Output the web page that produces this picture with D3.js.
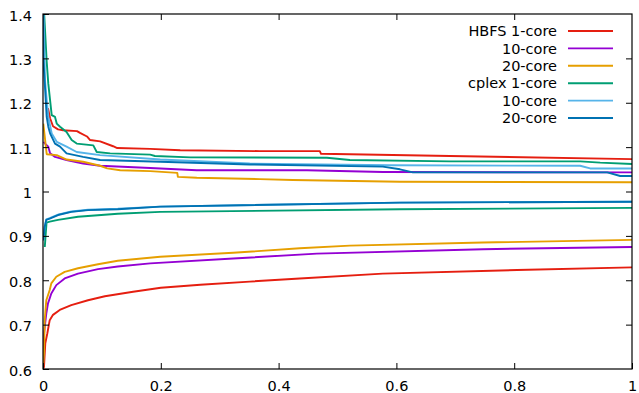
<!DOCTYPE html>
<html>
<head>
<meta charset="utf-8">
<script src="https://cdn.jsdelivr.net/npm/d3@7/dist/d3.min.js"></script>
<style>
  html, body { margin: 0; padding: 0; background: #fff; }
  svg { display: block; font-family: "DejaVu Sans", sans-serif; }
</style>
</head>
<body>
<div id="chart"></div>
<script>
// series names / colours (legend order = drawing order)
const seriesNames = ['HBFS 1-core', '10-core', '20-core', 'cplex 1-core', '10-core', '20-core'];
const seriesColors = ['#e51e10', '#9400d3', '#e69f00', '#009e73', '#56b4e9', '#0072b2'];

// upper curves, [x, ratio]
const hbfs1Upper = [[0.0085,1.188],[0.012,1.165],[0.017,1.147],[0.0255,1.140],[0.034,1.138],[0.0577,1.136],[0.0628,1.132],[0.0747,1.124],[0.080,1.116],[0.097,1.113],[0.119,1.102],[0.126,1.098],[0.182,1.096],[0.233,1.093],[0.368,1.091],[0.470,1.091],[0.472,1.085],[0.691,1.080],[1.0,1.073]];
const hbfs10Upper = [[0.001,1.112],[0.0034,1.108],[0.009,1.101],[0.012,1.086],[0.0204,1.078],[0.040,1.071],[0.068,1.063],[0.097,1.058],[0.182,1.053],[0.261,1.048],[0.448,1.048],[0.577,1.044],[1.0,1.043]];
const hbfs20Upper = [[0.0005,1.153],[0.0063,1.084],[0.0233,1.082],[0.040,1.072],[0.068,1.067],[0.097,1.058],[0.109,1.052],[0.131,1.048],[0.182,1.046],[0.228,1.042],[0.229,1.033],[0.261,1.031],[0.368,1.028],[0.424,1.026],[0.606,1.022],[1.0,1.021]];
const cplex1Upper = [[0.002,1.40],[0.0063,1.292],[0.009,1.243],[0.012,1.206],[0.0148,1.172],[0.0204,1.168],[0.0233,1.153],[0.0289,1.146],[0.040,1.134],[0.0487,1.116],[0.0572,1.108],[0.0854,1.104],[0.0912,1.089],[0.114,1.086],[0.182,1.083],[0.190,1.080],[0.250,1.077],[0.482,1.076],[0.521,1.071],[0.691,1.068],[0.912,1.068],[0.946,1.065],[1.0,1.062]];
const cplex10Upper = [[0.001,1.40],[0.0034,1.251],[0.0063,1.206],[0.009,1.168],[0.0148,1.131],[0.0233,1.112],[0.040,1.101],[0.0572,1.089],[0.097,1.082],[0.199,1.072],[0.351,1.063],[0.589,1.059],[0.912,1.058],[0.929,1.052],[1.0,1.052]];
const cplex20Upper = [[0.0003,1.40],[0.0005,1.301],[0.0063,1.168],[0.009,1.146],[0.012,1.131],[0.0204,1.108],[0.0289,1.101],[0.040,1.086],[0.068,1.078],[0.097,1.071],[0.199,1.067],[0.351,1.061],[0.577,1.056],[0.606,1.050],[0.628,1.043],[0.958,1.043],[0.980,1.035],[1.0,1.035]];

// lower curves, [x, ratio]
const hbfs1Lower = [[0,0.60],[0.0017,0.605],[0.0039,0.658],[0.0073,0.680],[0.0114,0.710],[0.017,0.722],[0.0284,0.733],[0.048,0.744],[0.0764,0.755],[0.105,0.764],[0.153,0.774],[0.200,0.783],[0.267,0.790],[0.351,0.797],[0.436,0.804],[0.577,0.815],[0.805,0.823],[1.0,0.829]];
const hbfs10Lower = [[0,0.60],[0.0017,0.680],[0.0056,0.725],[0.0085,0.748],[0.0141,0.770],[0.0226,0.789],[0.0368,0.804],[0.0594,0.815],[0.0934,0.825],[0.127,0.831],[0.182,0.838],[0.323,0.849],[0.465,0.860],[0.747,0.870],[1.0,0.875]];
const hbfs20Lower = [[0,0.60],[0.0017,0.636],[0.0029,0.710],[0.0056,0.755],[0.0114,0.778],[0.0141,0.793],[0.0226,0.808],[0.0368,0.819],[0.0594,0.827],[0.0934,0.836],[0.127,0.844],[0.199,0.853],[0.323,0.862],[0.436,0.872],[0.521,0.878],[0.747,0.885],[1.0,0.891]];
const cplex1Lower = [[0.003,0.875],[0.0039,0.891],[0.006,0.930],[0.0114,0.932],[0.0255,0.936],[0.0594,0.943],[0.127,0.950],[0.199,0.954],[0.606,0.960],[1.0,0.963]];
const cplex10Lower = [[0.0005,0.890],[0.0029,0.921],[0.0056,0.937],[0.0114,0.940],[0.0255,0.948],[0.048,0.955],[0.0764,0.959],[0.127,0.961],[0.199,0.966],[0.606,0.975],[1.0,0.977]];
const cplex20Lower = [[0.0005,0.890],[0.0029,0.920],[0.0056,0.936],[0.0114,0.939],[0.0255,0.947],[0.048,0.954],[0.0764,0.958],[0.127,0.960],[0.199,0.966],[0.606,0.975],[1.0,0.977]];

const upperCurves = [hbfs1Upper, hbfs10Upper, hbfs20Upper, cplex1Upper, cplex10Upper, cplex20Upper];
const lowerCurves = [hbfs1Lower, hbfs10Lower, hbfs20Lower, cplex1Lower, cplex10Lower, cplex20Lower];

const xTicks = [0, 0.2, 0.4, 0.6, 0.8, 1];
const xTickLabels = ['0', '0.2', '0.4', '0.6', '0.8', '1'];
const yTicks = [0.6, 0.7, 0.8, 0.9, 1.0, 1.1, 1.2, 1.3, 1.4];
const yTickLabels = ['0.6', '0.7', '0.8', '0.9', '1', '1.1', '1.2', '1.3', '1.4'];

const width = 639, height = 393;
const margin = { top: 14, right: 7, bottom: 24, left: 43 };
const fontSize = 14.5;

const svg = d3.select('#chart').append('svg')
  .attr('width', width)
  .attr('height', height)
  .style('font-size', fontSize + 'px');

const x = d3.scaleLinear().domain([0, 1]).range([margin.left, width - margin.right]);
const y = d3.scaleLinear().domain([0.6, 1.4]).range([height - margin.bottom, margin.top]);

// clip so lines stay inside the frame
svg.append('clipPath').attr('id', 'plot-clip')
  .append('rect')
  .attr('x', margin.left).attr('y', margin.top)
  .attr('width', x(1) - x(0)).attr('height', y(0.6) - y(1.4));

const line = d3.line().x(d => x(d[0])).y(d => y(d[1]));

const plot = svg.append('g').attr('clip-path', 'url(#plot-clip)');
seriesNames.forEach((name, i) => {
  [upperCurves[i], lowerCurves[i]].forEach(curve => {
    plot.append('path')
      .datum(curve)
      .attr('fill', 'none')
      .attr('stroke', seriesColors[i])
      .attr('stroke-width', 1.9)
      .attr('stroke-linejoin', 'round')
      .attr('d', line);
  });
});

// axes, ticks pointing inward and mirrored
function styleAxis(g) {
  g.select('.domain').remove();
  g.selectAll('.tick line').attr('stroke', '#000');
  g.selectAll('.tick text').attr('fill', '#000').style('font-size', fontSize + 'px')
    .style('font-family', '"DejaVu Sans", sans-serif');
}

svg.append('g')
  .attr('transform', `translate(0,${y(0.6)})`)
  .call(d3.axisBottom(x).tickValues(xTicks).tickFormat((d, i) => xTickLabels[i]).tickSize(-6).tickPadding(12))
  .call(styleAxis);

svg.append('g')
  .attr('transform', `translate(0,${y(1.4)})`)
  .call(d3.axisTop(x).tickValues(xTicks.slice(1, -1)).tickFormat('').tickSize(-6))
  .call(styleAxis);

svg.append('g')
  .attr('transform', `translate(${x(0)},0)`)
  .call(d3.axisLeft(y).tickValues(yTicks).tickFormat((d, i) => yTickLabels[i]).tickSize(-6).tickPadding(11))
  .call(styleAxis)
  .selectAll('.tick text').attr('dy', '0.42em');

svg.append('g')
  .attr('transform', `translate(${x(1)},0)`)
  .call(d3.axisRight(y).tickValues(yTicks.slice(1, -1)).tickFormat('').tickSize(-6))
  .call(styleAxis);

// frame
svg.append('rect')
  .attr('x', x(0)).attr('y', y(1.4))
  .attr('width', x(1) - x(0)).attr('height', y(0.6) - y(1.4))
  .attr('fill', 'none')
  .attr('stroke', '#000')
  .attr('stroke-width', 1.2);

// legend
const legend = svg.append('g').attr('transform', 'translate(557,31)');
seriesNames.forEach((name, i) => {
  const row = legend.append('g').attr('transform', `translate(0,${i * 17.4})`);
  row.append('text')
    .attr('text-anchor', 'end')
    .attr('dy', '0.36em')
    .attr('fill', '#000')
    .text(name);
  row.append('line')
    .attr('x1', 11).attr('x2', 56)
    .attr('stroke', seriesColors[i])
    .attr('stroke-width', 1.9);
});
</script>
</body>
</html>
